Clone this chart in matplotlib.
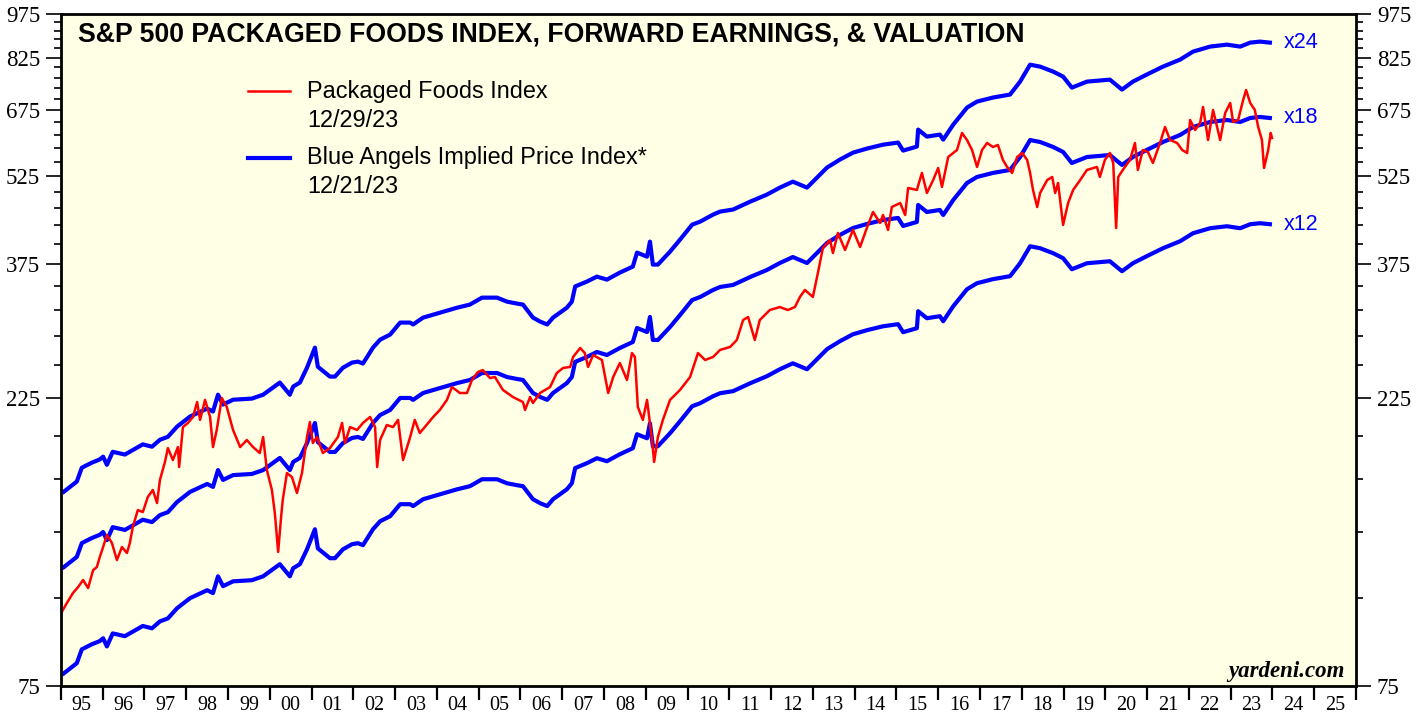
import numpy as np
import matplotlib
matplotlib.use("Agg")
import matplotlib.pyplot as plt
from matplotlib.ticker import FixedLocator, NullFormatter, FixedFormatter

# ========= data =========
# S&P 500 Packaged Foods price index (decimal years)
idx_t = [
    1995.02, 1995.14, 1995.29, 1995.41, 1995.53, 1995.65, 1995.77, 1995.86, 1995.93,
    1996.01, 1996.10, 1996.22, 1996.34, 1996.46, 1996.58, 1996.65, 1996.72, 1996.84, 1996.96,
    1997.08, 1997.20, 1997.30, 1997.37, 1997.49, 1997.56, 1997.68, 1997.80, 1997.83, 1997.92,
    1998.04, 1998.16, 1998.26, 1998.33, 1998.45, 1998.57, 1998.64, 1998.73, 1998.85, 1998.97,
    1999.12, 1999.29, 1999.45, 1999.60, 1999.76, 1999.84, 1999.93,
    2000.05, 2000.12, 2000.20, 2000.27, 2000.31, 2000.41, 2000.53, 2000.65, 2000.77, 2000.89, 2000.96,
    2001.03, 2001.13, 2001.27, 2001.44, 2001.63, 2001.73, 2001.80, 2001.92,
    2002.09, 2002.23, 2002.40, 2002.52, 2002.57, 2002.64, 2002.80, 2002.95,
    2003.07, 2003.19, 2003.36, 2003.47, 2003.59, 2003.71, 2003.91,
    2004.07, 2004.24, 2004.36, 2004.55, 2004.72, 2004.84, 2004.98,
    2005.10, 2005.27, 2005.39, 2005.58, 2005.82,
    2006.06, 2006.11, 2006.23, 2006.30, 2006.47, 2006.71, 2006.87,
    2007.02, 2007.19, 2007.26, 2007.43, 2007.54, 2007.62, 2007.74, 2007.95,
    2008.10, 2008.22, 2008.38, 2008.55, 2008.67, 2008.74, 2008.81, 2008.93,
    2009.03, 2009.15, 2009.20, 2009.29, 2009.41, 2009.58, 2009.82,
    2010.06, 2010.25, 2010.42, 2010.61, 2010.78,
    2011.02, 2011.18, 2011.33, 2011.45, 2011.61, 2011.73, 2011.97,
    2012.21, 2012.40, 2012.57, 2012.69, 2012.81,
    2013.00, 2013.12, 2013.24, 2013.41, 2013.48, 2013.60, 2013.77, 2013.96,
    2014.13, 2014.30, 2014.44, 2014.61, 2014.68, 2014.80, 2014.89,
    2015.09, 2015.21, 2015.28, 2015.49, 2015.61, 2015.73, 2015.88,
    2016.00, 2016.09, 2016.24, 2016.45, 2016.57, 2016.69, 2016.81, 2016.93,
    2017.05, 2017.17, 2017.31, 2017.43, 2017.55, 2017.65, 2017.77, 2017.89,
    2018.01, 2018.13, 2018.20, 2018.27, 2018.37, 2018.44, 2018.61, 2018.73, 2018.80, 2018.87, 2018.99,
    2019.11, 2019.23, 2019.40, 2019.56, 2019.80, 2019.87, 2019.99,
    2020.11, 2020.19, 2020.26, 2020.31, 2020.42, 2020.59, 2020.71, 2020.78, 2020.90,
    2021.02, 2021.14, 2021.31, 2021.43, 2021.55, 2021.72, 2021.84, 2021.96,
    2022.03, 2022.15, 2022.27, 2022.34, 2022.46, 2022.58, 2022.75, 2022.87, 2022.99,
    2023.06, 2023.18, 2023.30, 2023.37, 2023.47, 2023.58, 2023.66, 2023.75, 2023.80,
    2023.90, 2023.96, 2023.99,
]
idx_val = [
    99.5, 102.9, 107.0, 109.4, 112.4, 109.0, 116.7, 118.1, 122.7,
    127.5, 133.5, 129.5, 121.3, 127.5, 124.6, 129.5, 137.6, 146.8, 145.7,
    154.3, 158.5, 150.8, 164.7, 176.4, 186.0, 177.7, 186.7, 173.0, 201.5,
    204.7, 209.4, 221.7, 207.1, 223.5, 209.4, 186.7, 199.3, 225.2, 217.6,
    199.3, 186.7, 191.8, 186.7, 182.5, 194.0, 171.0,
    158.5, 145.2, 125.1, 142.9, 152.6, 169.1, 166.5, 156.7, 169.1, 194.0, 205.4,
    189.6, 194.0, 182.5, 186.0, 194.0, 204.7, 189.6, 201.5,
    199.3, 204.7, 209.4, 201.5, 173.0, 191.8, 203.1, 201.5,
    207.1, 177.7, 194.0, 207.1, 197.0, 201.5, 209.4,
    215.1, 223.5, 234.8, 229.5, 229.5, 241.2, 248.6,
    250.5, 243.0, 243.9, 232.2, 226.0,
    221.7, 215.1, 226.0, 220.9, 229.5, 234.8, 247.7,
    252.5, 253.5, 263.3, 272.5, 267.3, 253.5, 265.3, 260.3,
    229.5, 243.9, 257.3, 241.2, 267.3, 263.3, 217.6, 207.1,
    223.5, 191.8, 176.4, 194.0, 207.1, 223.5, 232.2,
    243.9, 267.3, 260.3, 263.3, 270.5,
    273.6, 281.0, 303.2, 306.7, 281.0, 303.2, 315.0,
    318.6, 315.0, 318.6, 331.1, 340.1,
    331.1, 362.8, 399.2, 411.5, 391.6, 422.7, 396.1, 427.6,
    400.7, 432.4, 457.9, 439.2, 452.7, 427.6, 466.7,
    473.9, 452.7, 501.9, 498.1, 531.5, 492.4, 517.4,
    541.7, 503.8, 564.9, 580.2, 619.1, 602.7, 580.2, 543.8,
    580.2, 595.9, 586.9, 591.4, 558.5, 543.8, 531.5, 564.9,
    573.6, 558.5, 531.5, 498.1, 466.7, 492.4, 517.4, 523.4, 492.4, 511.6, 435.8,
    473.9, 498.1, 517.4, 537.6, 543.8, 523.4, 558.5,
    573.6, 552.1, 430.8, 523.4, 537.6, 558.5, 595.9, 537.6, 580.2,
    575.8, 552.1, 595.9, 633.5, 602.7, 595.9, 580.2, 573.6,
    650.6, 626.2, 643.2, 683.7, 602.7, 675.9, 602.7, 668.2, 694.2,
    645.7, 650.6, 702.2, 729.5, 694.2, 675.9, 633.5, 602.7, 541.7,
    580.2, 619.1, 607.4,
]

# forward earnings per share (Blue Angels = EPS x multiple)
eps_t = [
    1995.07, 1995.38, 1995.50, 1995.74, 1995.93, 1996.01, 1996.10, 1996.24, 1996.53, 1996.96,
    1997.18, 1997.37, 1997.56, 1997.78, 1998.09, 1998.50, 1998.64, 1998.76, 1998.88,
    1999.12, 1999.57, 1999.84, 2000.24, 2000.48, 2000.56, 2000.72, 2000.89,
    2001.08, 2001.15, 2001.44, 2001.56, 2001.75, 2001.97,
    2002.11, 2002.23, 2002.47, 2002.64, 2002.88, 2003.12, 2003.36, 2003.43, 2003.67,
    2004.07, 2004.48, 2004.79, 2005.08, 2005.44, 2005.68, 2005.92,
    2006.06, 2006.30, 2006.47, 2006.64, 2006.78, 2007.11, 2007.23, 2007.31, 2007.59, 2007.83,
    2008.07, 2008.38, 2008.69, 2008.79, 2009.03, 2009.10, 2009.17, 2009.29, 2009.58, 2009.82,
    2010.11, 2010.30, 2010.61, 2010.78, 2011.09, 2011.50, 2011.90,
    2012.21, 2012.52, 2012.69, 2012.86, 2013.10, 2013.34, 2013.65, 2013.96,
    2014.30, 2014.68, 2015.04, 2015.16, 2015.49, 2015.52, 2015.73,
    2016.04, 2016.12, 2016.36, 2016.69, 2016.93, 2017.31, 2017.72, 2017.96,
    2018.20, 2018.44, 2018.75, 2018.99, 2019.20, 2019.56,
    2020.11, 2020.40, 2020.66, 2020.99, 2021.38, 2021.79,
    2022.10, 2022.51, 2022.91, 2023.23, 2023.47, 2023.70, 2023.94,
]
eps_val = [
    6.56, 6.82, 7.19, 7.33, 7.42, 7.50, 7.27, 7.64, 7.56, 7.86,
    7.79, 8.00, 8.09, 8.41, 8.74, 9.01, 8.91, 9.50, 9.15,
    9.32, 9.36, 9.50, 9.95, 9.50, 9.80, 9.95, 10.53,
    11.37, 10.57, 10.18, 10.18, 10.53, 10.74,
    10.78, 10.70, 11.37, 11.72, 11.95, 12.51, 12.51, 12.42, 12.75,
    12.99, 13.24, 13.40, 13.76, 13.76, 13.55, 13.45,
    13.40, 12.75, 12.56, 12.42, 12.75, 13.24, 13.55, 14.36, 14.63, 14.91,
    14.74, 15.14, 15.49, 16.34, 16.09, 17.04, 15.61, 15.61, 16.40, 17.17,
    18.18, 18.39, 18.89, 19.11, 19.26, 19.85, 20.39,
    20.94, 21.42, 21.18, 20.94, 21.76, 22.61, 23.31, 23.93,
    24.31, 24.67, 24.87, 24.12, 24.49, 26.13, 25.44,
    25.64, 25.15, 26.63, 28.42, 29.08, 29.53, 29.87, 31.38,
    33.48, 33.23, 32.61, 31.99, 30.67, 31.38,
    31.62, 30.44, 31.38, 32.23, 33.23, 34.13,
    35.19, 35.87, 36.14, 35.87, 36.42, 36.56, 36.42,
]
multiples = [24, 18, 12]

y_major = [75, 225, 375, 525, 675, 825, 975]
y_minor = [v for v in range(75, 976, 30) if v not in y_major]
years = list(range(1995, 2026))
year_labels = [f"{y % 100:02d}" for y in years]

title = "S&P 500 PACKAGED FOODS INDEX, FORWARD EARNINGS, & VALUATION"
# ===========================================


def main():
    plt.rcParams.update({
        "font.family": "Liberation Sans",
        "axes.linewidth": 2.0,
    })
    serif = "Liberation Serif"
    red = "#ff0000"
    blue = "#0000ff"

    fig = plt.figure(figsize=(14.27, 7.17), dpi=100)
    ax = fig.add_axes([0.0427, 0.0432, 0.9075, 0.9373])
    ax.set_facecolor("#ffffe6")

    eps = np.array(eps_val)
    for m in multiples:
        ax.plot(eps_t, eps * m, color=blue, linewidth=3.0, solid_joinstyle="round")
        ax.annotate(f"x{m}", xy=(eps_t[-1], eps[-1] * m), xytext=(14, 0),
                    textcoords="offset pixels", va="center", ha="left",
                    color=blue, fontsize=15.5)

    ax.plot(idx_t, idx_val, color=red, linewidth=1.8)

    # axes
    ax.set_yscale("log")
    ax.set_ylim(75, 975)
    ax.set_xlim(1995, 2026)
    ax.yaxis.set_major_locator(FixedLocator(y_major))
    ax.yaxis.set_major_formatter(FixedFormatter([str(v) for v in y_major]))
    ax.yaxis.set_minor_locator(FixedLocator(y_minor))
    ax.yaxis.set_minor_formatter(NullFormatter())
    ax.tick_params(axis="y", which="major", direction="out", length=11, width=1.2,
                   left=True, right=True, labelleft=True, labelright=True,
                   labelsize=16.5, pad=4)
    ax.tick_params(axis="y", which="minor", direction="out", length=5, width=1.2,
                   left=True, right=True)
    for lab in ax.get_yticklabels():
        lab.set_fontfamily(serif)

    ax.set_xticks(list(range(1995, 2027)))
    ax.set_xticklabels([])
    ax.set_xticks([y + 0.5 for y in years], minor=True)
    ax.set_xticklabels(year_labels, minor=True, fontfamily=serif, fontsize=14.5)
    ax.tick_params(axis="x", which="major", direction="out", length=10, width=1.6)
    ax.tick_params(axis="x", which="minor", length=0, pad=7)

    # title and legend
    ax.text(0.013, 0.970, title, transform=ax.transAxes, fontsize=19.2,
            fontweight="bold", va="center", ha="left")
    ax.plot([0.1444, 0.1768], [0.8854, 0.8854], transform=ax.transAxes,
            color=red, linewidth=1.8)
    ax.plot([0.1444, 0.1768], [0.7857, 0.7857], transform=ax.transAxes,
            color=blue, linewidth=3.0)
    ax.text(0.190, 0.884, "Packaged Foods Index", transform=ax.transAxes,
            fontsize=16.9, va="center")
    ax.text(0.190, 0.841, "12/29/23", transform=ax.transAxes,
            fontsize=16.9, va="center")
    ax.text(0.190, 0.786, "Blue Angels Implied Price Index*", transform=ax.transAxes,
            fontsize=16.9, va="center")
    ax.text(0.190, 0.743, "12/21/23", transform=ax.transAxes,
            fontsize=16.9, va="center")

    ax.text(0.9915, 0.022, "yardeni.com", transform=ax.transAxes, ha="right",
            va="center", fontfamily=serif, fontweight="bold", fontstyle="italic",
            fontsize=16.5)

    fig.savefig("out.png", dpi=100)
    plt.close(fig)


if __name__ == "__main__":
    main()
